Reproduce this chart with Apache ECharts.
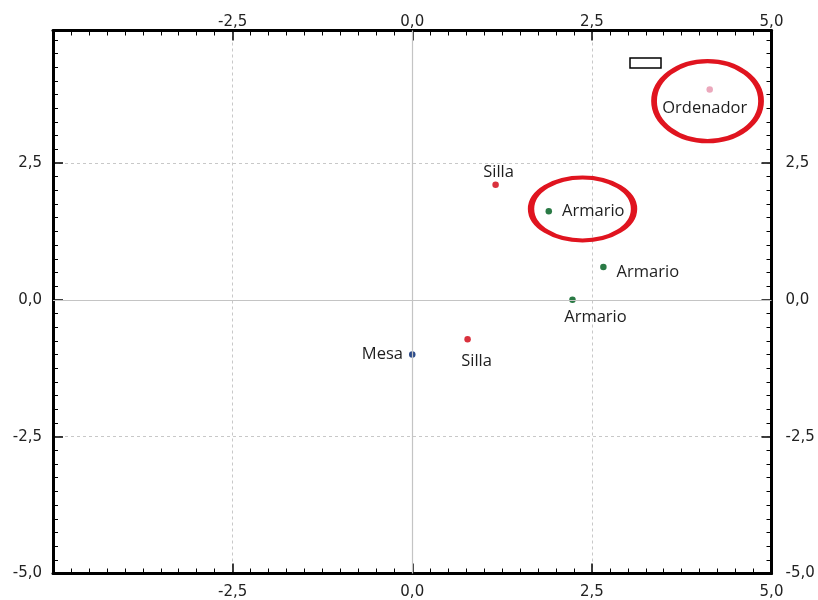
<!DOCTYPE html>
<html>
<head>
<meta charset="utf-8">
<script src="https://cdn.jsdelivr.net/npm/echarts@6/dist/echarts.min.js"></script>
<style>
html,body{margin:0;padding:0;background:#fff;}
#chart{width:818px;height:600px;}
</style>
</head>
<body>
<div id="chart"></div>
<script>
// ---- data ----
const categories = ['Mesa', 'Silla', 'Silla', 'Armario', 'Armario', 'Armario', 'Ordenador'];
const xValues = [0.0, 0.77, 1.16, 1.90, 2.66, 2.23, 4.14];
const yValues = [-1.0, -0.72, 2.10, 1.62, 0.60, 0.0, 3.84];
const highlightX = [4.11, 2.37];
const highlightY = [3.63, 1.66];
const xTicks = [-5, -2.5, 0, 2.5, 5];
const yTicks = [-5, -2.5, 0, 2.5];

// ---- styling ----
const colorMap = { 'Mesa': '#2b4a8a', 'Silla': '#d9313d', 'Armario': '#2a7a45', 'Ordenador': '#eba8bc' };
const labelPlacement = [
  { position: 'left', distance: 6, offset: [0, 0] },
  { position: 'bottom', distance: 10, offset: [9, 0] },
  { position: 'top', distance: 1, offset: [3, 0] },
  { position: 'right', distance: 10, offset: [0, 0] },
  { position: 'right', distance: 10, offset: [0, 5] },
  { position: 'bottom', distance: 6, offset: [23, 0] },
  { position: 'bottom', distance: 7, offset: [-5, 0] }
];
const ellipseSizes = [[107, 80], [103, 63]];

const fmt = v => v.toFixed(1).replace('.', ',');
const xFmt = v => (Math.abs(v + 5) < 1e-6) ? '' : fmt(v);
const yFmt = v => (yTicks.some(t => Math.abs(t - v) < 1e-6)) ? fmt(v) : '';

function axis(extra, min, max, showSplit, formatter, margin) {
  return Object.assign({
    type: 'value', min: min, max: max, interval: 2.5,
    axisLine: { show: true, onZero: false, lineStyle: { color: '#000', width: 3 } },
    axisTick: { show: true, inside: true, length: 10, lineStyle: { color: '#000', width: 1.5 } },
    minorTick: { show: true, splitNumber: 10, length: 5, lineStyle: { color: '#000', width: 1 } },
    splitLine: { show: showSplit, lineStyle: { color: '#c8c8c8', type: [3, 3], width: 1 } },
    minorSplitLine: { show: false },
    axisLabel: { show: true, formatter: formatter, margin: margin, color: '#222', fontFamily: 'DejaVu Sans', fontSize: 15 }
  }, extra);
}

const chart = echarts.init(document.getElementById('chart'), null, { renderer: 'canvas' });

const pointData = categories.map((c, i) => ({
  value: [xValues[i], yValues[i]],
  name: c,
  itemStyle: { color: colorMap[c], opacity: 1 },
  label: {
    show: true, formatter: c,
    position: labelPlacement[i].position,
    distance: labelPlacement[i].distance,
    offset: labelPlacement[i].offset,
    color: '#1e1e1e', fontFamily: 'Open Sans', fontSize: 16.5
  }
}));

const ellipseData = highlightX.map((x, i) => ({
  value: [x, highlightY[i]],
  symbolSize: ellipseSizes[i]
}));

chart.setOption({
  animation: false,
  grid: { left: 53, right: 46.5, top: 30.5, bottom: 26.5, containLabel: false },
  xAxis: [
    axis({ position: 'bottom' }, -5, 5, true, xFmt, 11),
    axis({ position: 'top' }, -5, 5, false, xFmt, 1)
  ],
  yAxis: [
    axis({ position: 'left' }, -5, 4.92, true, yFmt, 11),
    axis({ position: 'right' }, -5, 4.92, false, yFmt, 14)
  ],
  series: [
    {
      type: 'scatter', xAxisIndex: 0, yAxisIndex: 0,
      symbol: 'circle', symbolSize: 6.5,
      itemStyle: { opacity: 1 },
      data: pointData,
      z: 3,
      markLine: {
        silent: true, symbol: 'none',
        label: { show: false },
        lineStyle: { color: '#c4c4c4', type: 'solid', width: 1.2, opacity: 1 },
        data: [{ xAxis: 0 }, { yAxis: 0 }]
      }
    },
    {
      type: 'scatter', xAxisIndex: 0, yAxisIndex: 0,
      symbol: 'circle',
      silent: true,
      itemStyle: { color: 'rgba(0,0,0,0)', borderColor: '#e0141f', borderWidth: 5, opacity: 1 },
      data: ellipseData,
      z: 4
    }
  ],
  graphic: [
    {
      type: 'rect',
      shape: { x: 630, y: 58, width: 31, height: 10 },
      style: { fill: '#fff', stroke: '#000', lineWidth: 1.5 }
    }
  ]
});
</script>
</body>
</html>
